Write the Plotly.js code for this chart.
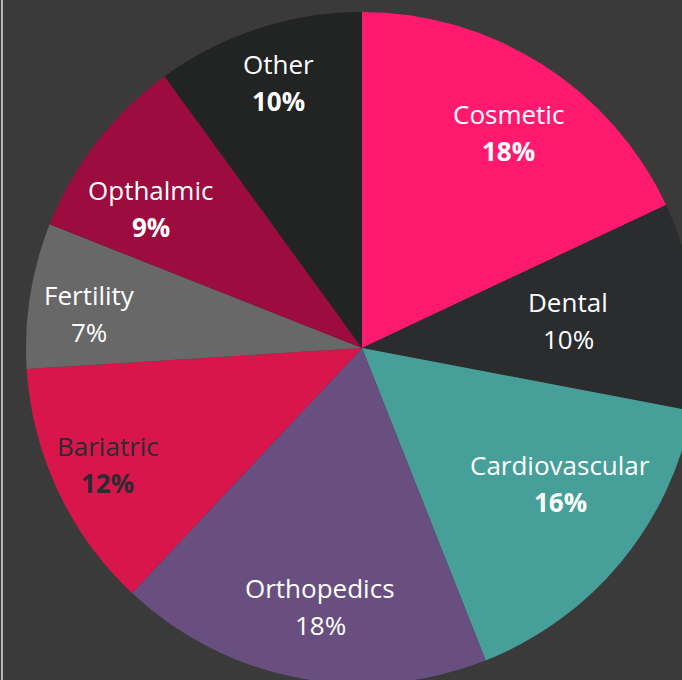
<!DOCTYPE html>
<html>
<head>
<meta charset="utf-8">
<script src="https://cdn.plot.ly/plotly-3.0.1.min.js"></script>
<style>
  html, body { margin: 0; padding: 0; background: #3a3a3a; overflow: hidden; }
  #wrap { position: relative; width: 682px; height: 680px; overflow: hidden; background: #3a3a3a; }
  #chart { position: absolute; left: 0; top: 0; width: 724px; height: 696px; }
</style>
</head>
<body>
<div id="wrap"><div id="chart"></div></div>
<script>
// ---- data ----
const categories = ["Cosmetic", "Dental", "Cardiovascular", "Orthopedics", "Bariatric", "Fertility", "Opthalmic", "Other"];
const shares = [18, 10, 16, 18, 12, 7, 9, 10];
const boldPercent = [true, false, true, false, true, false, true, true];

// ---- styles ----
const sliceColors = ["#ff1a6f", "#2b2c2e", "#479f99", "#694f7f", "#d8164c", "#686868", "#9c0c3e", "#222323"];
const textColors = ["#ffffff", "#ffffff", "#ffffff", "#ffffff", "#2b2b30", "#ffffff", "#ffffff", "#ffffff"];
// label placement (fraction of radius, angular nudge in degrees)
const labelRadius = [0.774, 0.619, 0.714, 0.78, 0.833, 0.818, 0.753, 0.827];
const labelNudge = [1.8, -0.5, -5.3, -1.6, 0.5, -1.7, -4.4, 0.6];

const W = 724, H = 696;
const CX = 362, CY = 348, R = 336;
const FONT = "Open Sans, sans-serif";
const FS = 26;
const HALF_GAP = 18.5;

const trace = {
  type: "pie",
  labels: categories,
  values: shares,
  sort: false,
  direction: "clockwise",
  rotation: 0,
  marker: { colors: sliceColors, line: { width: 0 } },
  textinfo: "none",
  hoverinfo: "none",
  showlegend: false,
  domain: { x: [(CX - R) / W, (CX + R) / W], y: [1 - (CY + R) / H, 1 - (CY - R) / H] }
};

const total = shares.reduce((a, b) => a + b, 0);
const annotations = [];
let cum = 0;
shares.forEach((v, i) => {
  const th = (360 * (cum + v / 2) / total + labelNudge[i]) * Math.PI / 180;
  cum += v;
  const px = CX + labelRadius[i] * R * Math.sin(th);
  const py = CY - labelRadius[i] * R * Math.cos(th);
  const pct = Math.round(100 * v / total) + "%";
  const base = { xref: "paper", yref: "paper", x: px / W, y: 1 - py / H,
                 xanchor: "center", yanchor: "middle", showarrow: false };
  annotations.push(Object.assign({}, base, {
    text: categories[i], yshift: HALF_GAP,
    font: { family: FONT, size: FS, color: textColors[i] }
  }));
  annotations.push(Object.assign({}, base, {
    text: boldPercent[i] ? "<b>" + pct + "</b>" : pct, yshift: -HALF_GAP,
    font: { family: FONT, size: FS, color: textColors[i] }
  }));
});

const layout = {
  width: W,
  height: H,
  margin: { l: 0, r: 0, t: 0, b: 0 },
  paper_bgcolor: "#3a3a3a",
  plot_bgcolor: "#3a3a3a",
  showlegend: false,
  annotations: annotations,
  shapes: [
    { type: "line", xref: "paper", yref: "paper", x0: 2 / W, x1: 2 / W, y0: 0, y1: 1,
      line: { color: "#b8b8b8", width: 2 } }
  ]
};

Plotly.newPlot("chart", [trace], layout, { displayModeBar: false, staticPlot: true });
</script>
</body>
</html>
